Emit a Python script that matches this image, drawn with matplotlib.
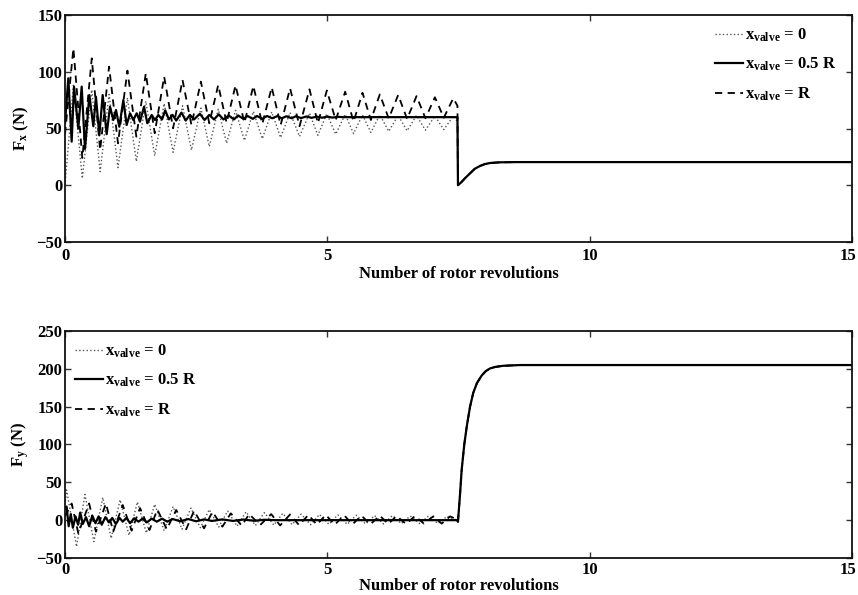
import matplotlib
matplotlib.use('Agg')
import matplotlib.pyplot as plt
import matplotlib.transforms as mtransforms

plt.rcParams['font.family'] = ['Liberation Serif', 'DejaVu Serif']
plt.rcParams['font.weight'] = 'bold'
plt.rcParams['mathtext.fontset'] = 'custom'
plt.rcParams['mathtext.rm'] = 'Liberation Serif:bold'
plt.rcParams['mathtext.it'] = 'Liberation Serif:bold'
plt.rcParams['mathtext.bf'] = 'Liberation Serif:bold'

# ---------------- Fx data (turning points) ----------------
fx_r_start = (0.0, 45.0)
fx_r_peak_x = [0.16, 0.51, 0.84, 1.19, 1.54, 1.89, 2.24, 2.59, 2.92, 3.25, 3.59,
               3.94, 4.29, 4.66, 4.99, 5.34, 5.67, 6.00, 6.35, 6.70, 7.05, 7.40]
fx_r_peak_y = [120.7, 111.8, 104.5, 101, 98.6, 95.7, 92.7, 91.3, 88.3, 88, 87.5,
               86.3, 85.4, 84.5, 83.5, 82.4, 81.5, 80, 79.5, 78.5, 77.5, 76.6]
fx_r_trough_x = [0.33, 0.67, 1.01, 1.36, 1.71, 2.06, 2.41, 2.75, 3.08, 3.42, 3.76,
                 4.11, 4.47, 4.82, 5.16, 5.50, 5.83, 6.17, 6.52, 6.87, 7.22]
fx_r_trough_y = [24, 31, 37, 42.8, 45.8, 50.2, 53, 54.6, 55, 55, 54,
                 53, 52, 54.6, 57.5, 56, 57.5, 58.9, 58.5, 59, 59.5]
fx_r_end = (7.48, 70.0)

fx_0_start = (0.0, 0.0)
fx_0_peak_y = [88, 84, 80, 77, 74, 72, 70, 68, 67, 66, 65,
               64.5, 64, 63.5, 63, 62.5, 62, 62, 61.5, 61.5, 61, 61]
fx_0_trough_y = [6, 12, 15.5, 21, 26, 29, 31, 34, 37, 39.5, 41,
                 42, 43, 44, 45, 45.5, 46.5, 47.5, 48, 48.5, 49]
fx_0_end = (7.48, 56.0)

fx_h_x = [0.0, 0.063, 0.127, 0.172, 0.254, 0.318, 0.381, 0.464, 0.54, 0.59, 0.654,
          0.718, 0.794, 0.858, 0.921, 0.972, 1.035, 1.112, 1.175, 1.239, 1.302,
          1.366, 1.429, 1.506, 1.569, 1.652, 1.715, 1.779, 1.85, 1.91, 1.98, 2.05,
          2.12, 2.22, 2.30, 2.38, 2.46, 2.57, 2.66, 2.75, 2.84, 2.93, 3.02, 3.12,
          3.22, 3.30, 3.40, 3.48, 3.58, 3.66, 3.76, 3.85, 3.95, 4.05, 4.13, 4.22,
          4.32, 4.40, 4.50, 4.60, 4.70, 4.80, 4.90, 5.0, 5.1, 5.2, 5.3, 7.48]
fx_h_y = [55, 94.2, 38.4, 86.9, 50, 86.9, 32, 79.5, 52, 78, 44,
          79.5, 45, 69.2, 57.5, 66.3, 51.6, 75.1, 53.1, 63.4, 57.5,
          63.4, 56, 69.2, 54.6, 61.9, 57.5, 61.9, 58, 66, 58, 62,
          57, 64, 57, 62, 58, 63, 57.5, 62, 58, 62.5, 58, 61.5,
          58, 61.5, 58.5, 61, 58.5, 61, 58.5, 61, 59, 61, 59, 60.8,
          59, 60.8, 59.2, 60.6, 59.4, 60.5, 59.5, 60.4, 59.6, 60.3, 60, 60]

fx_rec_x = [7.49, 7.55, 7.62, 7.72, 7.81, 7.91, 8.0, 8.1, 8.29, 8.6, 15.0]
fx_rec_y = [0.0, 2.5, 6.0, 10.5, 14.5, 17.0, 18.6, 19.6, 20.2, 20.4, 20.4]

# ---------------- Fy data ----------------
fy_r_start = (0.0, 5.0)
fy_r_peak_x = [0.127, 0.46, 0.78, 1.10, 1.43, 1.76, 2.12, 2.46, 2.81, 3.16, 3.51,
               3.93, 4.29, 4.64, 4.97, 5.32, 5.65, 6.0, 6.32, 6.67, 7.02, 7.34]
fy_r_peak_y = [22, 22, 22, 20, 16, 14, 13.5, 12.5, 11, 9, 8,
               8, 7.5, 7, 7, 6.5, 6, 6, 5.5, 5.5, 5, 5]
fy_r_trough_x = [0.254, 0.59, 0.92, 1.27, 1.61, 1.94, 2.31, 2.65, 3.0, 3.37, 3.72,
                 4.1, 4.46, 4.8, 5.14, 5.48, 5.82, 6.16, 6.5, 6.84, 7.18]
fy_r_trough_y = [-17.4, -15.2, -15, -13.8, -13, -12, -12, -10.8, -8.6, -7.2, -6.4,
                 -7, -6.5, -6, -6, -5.5, -5.5, -5, -5, -4.5, -4.5]
fy_r_end = (7.47, 1.0)

fy_0_start = (0.0, 20.0)
fy_0_peak_x = [0.03, 0.38, 0.72, 1.05, 1.38, 1.71, 2.06, 2.40, 2.75, 3.10, 3.45,
               3.80, 4.15, 4.50, 4.85, 5.20, 5.55, 5.90, 6.24, 6.58, 6.93, 7.28]
fy_0_peak_y = [40, 34, 30, 27, 24, 21, 18, 16, 14, 12, 11,
               10, 9, 8, 7.5, 7, 6.5, 6, 6, 5.5, 5.5, 5]
fy_0_trough_x = [0.22, 0.55, 0.88, 1.22, 1.55, 1.89, 2.23, 2.58, 2.93, 3.28, 3.63,
                 3.98, 4.33, 4.68, 5.03, 5.38, 5.73, 6.07, 6.41, 6.76, 7.11]
fy_0_trough_y = [-35, -28.4, -24, -20, -17, -14, -12, -10, -9, -8, -7,
                 -6.5, -6, -6, -5.5, -5.5, -5, -5, -4.5, -4.5, -4.5]
fy_0_end = (7.47, 0.0)

fy_h_x = [0.0, 0.03, 0.07, 0.11, 0.15, 0.2, 0.25, 0.29, 0.34, 0.4, 0.46, 0.52, 0.58,
          0.64, 0.7, 0.77, 0.84, 0.9, 0.97, 1.04, 1.1, 1.17, 1.24, 1.32, 1.4, 1.48,
          1.56, 1.65, 1.75, 1.85, 1.95, 2.05, 2.2, 2.35, 2.5, 2.65, 2.8, 3.0, 3.2,
          3.4, 3.6, 3.8, 4.0, 7.47]
fy_h_y = [16, 18, -8, 8, -10, 5, -6, 10, -5, 4, -8, 6, -4,
          5, -6, 4, -3, 3, -5, 3, -2, 3, -4, 2.5, -2, 2,
          -3, 2, -2, 2, -2, 1.5, -1.5, 1.5, -1.5, 1, -1, 1, -1,
          0.8, -0.8, 0.5, 0, 0]

fy_rec_x = [7.49, 7.53, 7.56, 7.61, 7.66, 7.72, 7.78, 7.85, 7.94, 8.02, 8.1, 8.2, 8.35, 8.67, 15.0]
fy_rec_y = [-2.0, 35, 66, 100, 125, 150, 168, 181, 191, 197, 200.5, 202.5, 204, 205, 205]

x_ticks = [0, 5, 10, 15]
fx_ticks = [-50, 0, 50, 100, 150]
fy_ticks = [-50, 0, 50, 100, 150, 200, 250]
labels = [r'$x_{valve}$ = 0', r'$x_{valve}$ = 0.5 R', r'$x_{valve}$ = R']


def interleave(start, px, py, tx, ty, end, rec_x, rec_y):
    xs, ys = [start[0]], [start[1]]
    for i in range(len(px)):
        xs.append(px[i]); ys.append(py[i])
        if i < len(tx):
            xs.append(tx[i]); ys.append(ty[i])
    xs.append(end[0]); ys.append(end[1])
    return xs + rec_x, ys + rec_y


fxR = interleave(fx_r_start, fx_r_peak_x, fx_r_peak_y, fx_r_trough_x, fx_r_trough_y, fx_r_end, fx_rec_x, fx_rec_y)
fx0 = interleave(fx_0_start, fx_r_peak_x, fx_0_peak_y, fx_r_trough_x, fx_0_trough_y, fx_0_end, fx_rec_x, fx_rec_y)
fxH = (fx_h_x + fx_rec_x, fx_h_y + fx_rec_y)

fyR = interleave(fy_r_start, fy_r_peak_x, fy_r_peak_y, fy_r_trough_x, fy_r_trough_y, fy_r_end, fy_rec_x, fy_rec_y)
fy0 = interleave(fy_0_start, fy_0_peak_x, fy_0_peak_y, fy_0_trough_x, fy_0_trough_y, fy_0_end, fy_rec_x, fy_rec_y)
fyH = (fy_h_x + fy_rec_x, fy_h_y + fy_rec_y)

W, H = 858, 595
fig = plt.figure(figsize=(W / 100, H / 100), dpi=100)
ax1 = fig.add_axes([65 / W, 1 - 242 / H, 787 / W, 227 / H])
ax2 = fig.add_axes([65 / W, 1 - 558 / H, 787 / W, 227 / H])

FS = 12


def style(ax, yticks, ylim, ylabel, xpad, xlabelpad):
    ax.set_xlim(0, 15)
    ax.set_ylim(*ylim)
    ax.set_xticks(x_ticks)
    ax.set_yticks(yticks)
    ax.tick_params(axis='both', direction='in', length=4, width=1.0, top=True, right=True,
                   labelsize=FS, color='#333333')
    ax.tick_params(axis='x', pad=xpad)
    ax.tick_params(axis='y', pad=2)
    for s in ax.spines.values():
        s.set_linewidth(1.3)
        s.set_color('#111111')
    ax.set_xlabel('Number of rotor revolutions', fontsize=FS, fontweight='bold', labelpad=xlabelpad)
    ax.set_ylabel(ylabel, fontsize=FS, fontweight='bold', labelpad=4)
    for lab in ax.get_xticklabels() + ax.get_yticklabels():
        lab.set_fontweight('bold')
    # keep the last x tick label inside the canvas
    last = ax.get_xticklabels()[-1]
    last.set_transform(last.get_transform() +
                       mtransforms.ScaledTranslation(-4 / 100, 0, fig.dpi_scale_trans))


for ax, d0, dH, dR in [(ax1, fx0, fxH, fxR), (ax2, fy0, fyH, fyR)]:
    ax.plot(d0[0], d0[1], linestyle=':', color='#555555', lw=1.0, label=labels[0])
    ax.plot(dH[0], dH[1], linestyle='-', color='black', lw=1.6, label=labels[1])
    ax.plot(dR[0], dR[1], linestyle=(0, (4, 3)), color='black', lw=1.3, label=labels[2])

style(ax1, fx_ticks, (-50, 150), r'$F_x$ (N)', 4, 2)
style(ax2, fy_ticks, (-50, 250), r'$F_y$ (N)', 3, 0)

leg_kw = dict(frameon=False, fontsize=FS, handlelength=1.7, handletextpad=0.1,
              labelspacing=0.72, borderaxespad=0.3)
l1 = ax1.legend(loc='upper right', bbox_to_anchor=(0.995, 1.0), **leg_kw)
l2 = ax2.legend(loc='upper left', bbox_to_anchor=(-0.002, 1.0), **leg_kw)
for l in (l1, l2):
    for t in l.get_texts():
        t.set_fontweight('bold')

fig.savefig('out.png', dpi=100)
